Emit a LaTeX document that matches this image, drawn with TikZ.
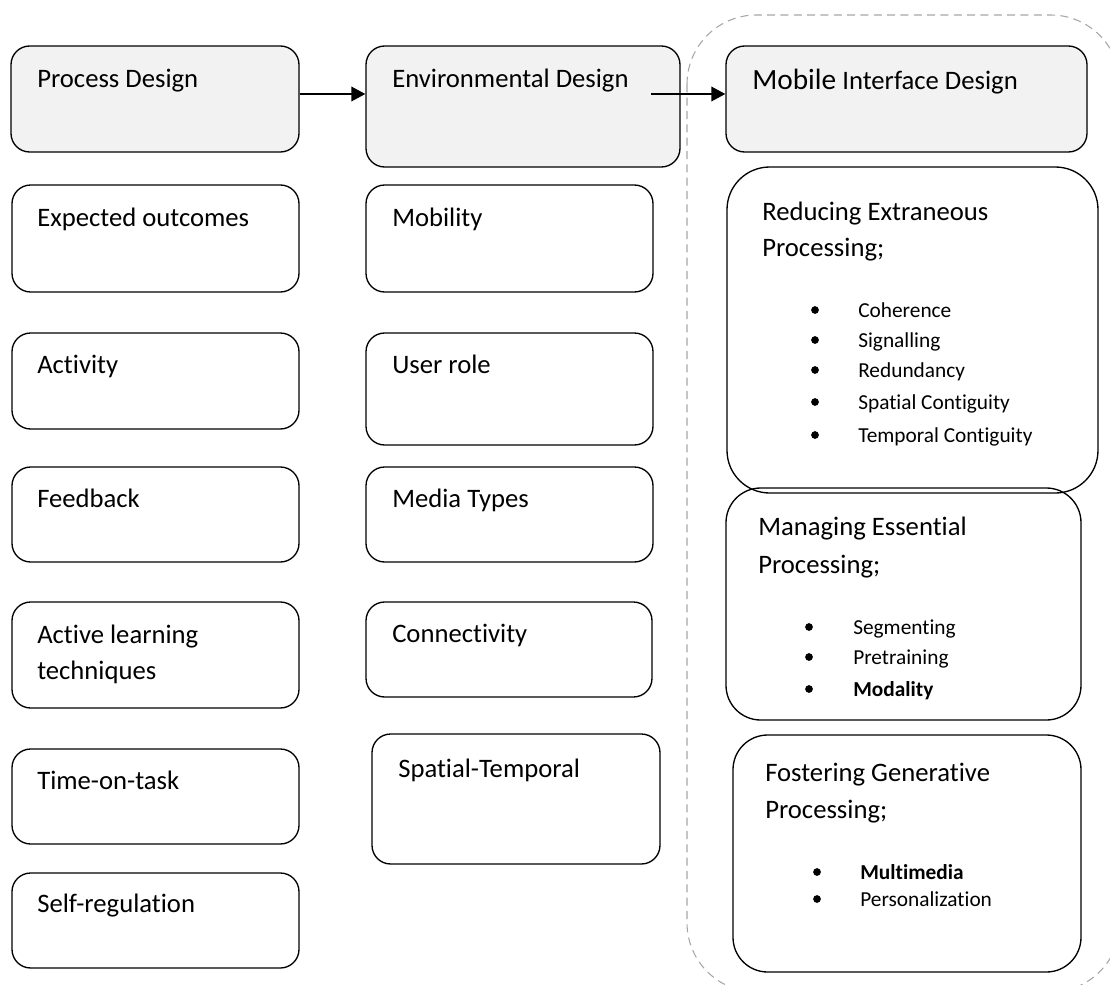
\documentclass[tikz,border=0pt]{standalone}
\usepackage{fontspec}
\setmainfont{Carlito}[Ligatures=NoCommon]
\usetikzlibrary{fit,calc,arrows.meta}
\definecolor{hdrfill}{HTML}{F2F2F2}
\definecolor{framegray}{HTML}{A6A6A6}
\begin{document}
\begin{tikzpicture}[x=0.75pt,y=-0.75pt,
  box/.style={draw=black, line width=1pt, rounded corners=14pt, inner sep=0pt},
  hdr/.style={box, fill=hdrfill},
  txt/.style={anchor=base west, inner sep=0pt, font=\fontsize{20}{24}\selectfont},
  item/.style={anchor=base west, inner sep=0pt, font=\fontsize{16}{19}\selectfont},
  dot/.style={circle, fill=black, inner sep=0pt, minimum size=5.8pt},
  arr/.style={-{Triangle[length=10.5pt,width=11pt]}, line width=1.1pt},
]
\useasboundingbox (0,0) rectangle (1110,985);

% dashed frame around the interface column
\draw[framegray, line width=0.8pt, dash pattern=on 6pt off 4pt, rounded corners=52pt]
  (687,15) rectangle (1120,992);

% header row
\node[hdr, fit={(11,46) (299,152)}] (pd) {};
\node[hdr, fit={(366,46) (680,167)}] (ed) {};
\node[hdr, fit={(726,46) (1087,152)}] (mi) {};
\node[txt] (pdt) at (37,87) {Process Design};
\node[txt] (edt) at (392,87) {Environmental Design};
\node[txt] (mit) at (752,89) {{\fontsize{22}{26}\selectfont Mobile} Interface Design};

\coordinate (edout) at (651,94);
\draw[arr] ([yshift=3.75pt]pd.east) -- ([yshift=3.75pt]pd.east -| ed.west);
\draw[arr] (edout) -- (edout -| mi.west);

% process design column
\node[box, fit={(12,185) (299,292)}] (eo) {};
\node[box, fit={(12,333) (299,429)}] (act) {};
\node[box, fit={(12,467) (299,562)}] (fb) {};
\node[box, fit={(12,602) (299,708)}] (alt) {};
\node[box, fit={(12,749) (299,844)}] (tot) {};
\node[box, fit={(12,873) (299,968)}] (sr) {};
\node[txt] (eot) at (37,226) {Expected outcomes};
\node[txt] (actt) at (37,373) {Activity};
\node[txt] (fbt) at (37,507) {Feedback};
\node[txt] (altt1) at (37,643) {Active learning};
\node[txt] (altt2) at (37,679) {techniques};
\node[txt] (tott) at (37,789) {Time-on-task};
\node[txt] (srt) at (37,912) {Self-regulation};

% environmental design column
\node[box, fit={(366,185) (653,292)}] (mob) {};
\node[box, fit={(366,333) (653,445)}] (ur) {};
\node[box, fit={(366,467) (653,562)}] (mt) {};
\node[box, fit={(366,602) (652,697)}] (con) {};
\node[box, fit={(372,734) (660,864)}] (st) {};
\node[txt] (mobt) at (392,226) {Mobility};
\node[txt] (urt) at (392,373) {User role};
\node[txt] (mtt) at (392,507) {Media Types};
\node[txt] (cont) at (392,642) {Connectivity};
\node[txt] (stt) at (398,777) {Spatial-Temporal};

% mobile interface design column
\node[box, rounded corners=32pt, fit={(727,167) (1098,493)}] (red) {};
\node[box, rounded corners=26pt, fit={(726,488) (1081,720)}] (man) {};
\node[box, rounded corners=26pt, fit={(733,735) (1081,972)}] (fos) {};

\node[txt] (redt1) at (762,220) {Reducing Extraneous};
\node[txt] (redt2) at (762,256) {Processing;};
\node[dot] (rd1) at (815,310) {};
\node[dot] (rd2) at (815,340) {};
\node[dot] (rd3) at (815,370) {};
\node[dot] (rd4) at (815,402) {};
\node[dot] (rd5) at (815,435) {};
\node[item] (ri1) at (858,317) {Coherence};
\node[item] (ri2) at (858,347) {Signalling};
\node[item] (ri3) at (858,377) {Redundancy};
\node[item] (ri4) at (858,409) {Spatial Contiguity};
\node[item] (ri5) at (858,442) {Temporal Contiguity};

\node[txt] (mant1) at (758,535) {Managing Essential};
\node[txt] (mant2) at (758,573) {Processing;};
\node[dot] (md1) at (809,627) {};
\node[dot] (md2) at (809,657) {};
\node[dot] (md3) at (809,689) {};
\node[item] (mi1) at (853,634) {Segmenting};
\node[item] (mi2) at (853,664) {Pretraining};
\node[item] (mi3) at (853,696) {\bfseries Modality};

\node[txt] (fost1) at (765,781) {Fostering Generative};
\node[txt] (fost2) at (765,818) {Processing;};
\node[dot] (fd1) at (817,872) {};
\node[dot] (fd2) at (817,899) {};
\node[item] (fi1) at (860,879) {\bfseries Multimedia};
\node[item] (fi2) at (860,906) {Personalization};
\end{tikzpicture}
\end{document}
